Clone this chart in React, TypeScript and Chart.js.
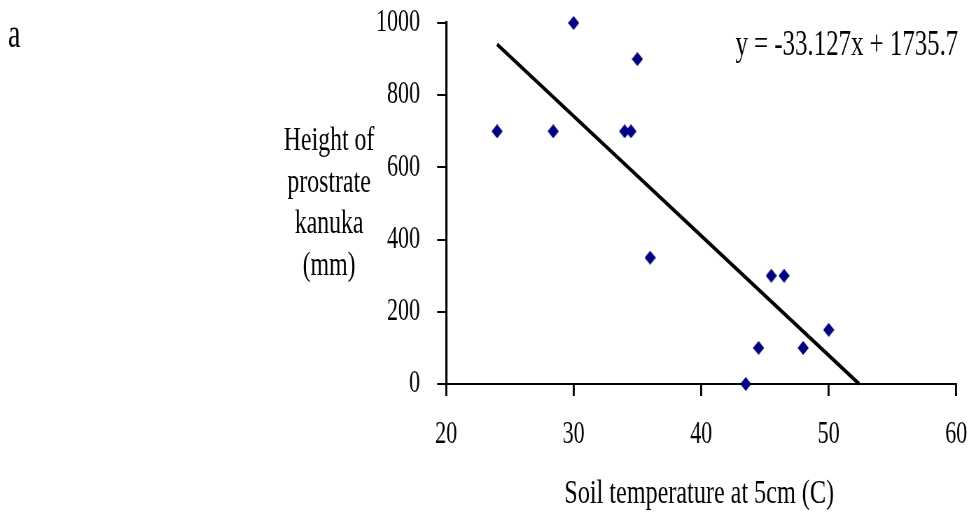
import React, { useEffect, useRef } from 'react';
import { Chart, registerables } from 'chart.js';

Chart.register(...registerables);

// ---- data ----
const soilTemp = [24, 28.4, 30, 34, 34.5, 35, 36, 43.5, 44.5, 45.5, 46.5, 48, 50];
const heightMm = [700, 700, 1000, 700, 700, 900, 350, 0, 100, 300, 300, 100, 150];
const trendSlope = -33.127;
const trendIntercept = 1735.7;
const trendXStart = 24;
const equationLabel = 'y = -33.127x + 1735.7';
const yTitleLines = ['Height of', 'prostrate', 'kanuka', '(mm)'];
const xTitle = 'Soil temperature at 5cm (C)';
const panelLabel = 'a';
const xRange = [20, 60];
const xStep = 10;
const yRange = [0, 1000];
const yStep = 200;

// ---- layout (displayed px; the canvas is squeezed horizontally) ----
const W = 969;
const H = 513;
const SQ = 0.7;
const IW = Math.round(W / SQ);
const toI = (px: number) => px / SQ;
const FONT = '"Liberation Serif", "Times New Roman", serif';

function makeDiamond(): HTMLCanvasElement {
  const c = document.createElement('canvas');
  c.width = 16;
  c.height = 14;
  const g = c.getContext('2d')!;
  g.fillStyle = '#000080';
  g.beginPath();
  g.moveTo(8, 0);
  g.lineTo(16, 7);
  g.lineTo(8, 14);
  g.lineTo(0, 7);
  g.closePath();
  g.fill();
  return c;
}

const textPlugin = {
  id: 'textPlugin',
  afterDraw(chart: any) {
    const ctx = chart.ctx as CanvasRenderingContext2D;
    ctx.save();
    ctx.fillStyle = '#000';
    ctx.textBaseline = 'alphabetic';
    ctx.textAlign = 'center';
    ctx.font = `34px ${FONT}`;
    const baselines = [150, 192, 233, 275];
    yTitleLines.forEach((t, i) => ctx.fillText(t, toI(329), baselines[i]));
    ctx.font = `34.5px ${FONT}`;
    ctx.fillText(xTitle, toI(699), 503);
    ctx.font = `35.5px ${FONT}`;
    ctx.textAlign = 'right';
    ctx.fillText(equationLabel, toI(958), 55);
    ctx.font = `40px ${FONT}`;
    ctx.textAlign = 'left';
    ctx.fillText(panelLabel, toI(8), 47);
    ctx.restore();
  },
};

export default function App() {
  const ref = useRef<HTMLCanvasElement>(null);
  useEffect(() => {
    document.body.style.margin = '0';
    document.body.style.overflow = 'hidden';
    const canvas = ref.current!;
    const trendXEnd = -trendIntercept / trendSlope;
    const chart = new Chart(canvas, {
      type: 'scatter',
      data: {
        datasets: [
          {
            data: soilTemp.map((x, i) => ({ x, y: heightMm[i] })),
            pointStyle: makeDiamond() as any,
            pointRadius: 7,
            showLine: false,
            clip: false as any,
          },
          {
            data: [
              { x: trendXStart, y: trendSlope * trendXStart + trendIntercept },
              { x: trendXEnd, y: trendSlope * trendXEnd + trendIntercept },
            ],
            showLine: true,
            pointRadius: 0,
            borderColor: '#000',
            borderWidth: 4,
            clip: false as any,
          },
        ],
      },
      options: {
        animation: false,
        responsive: false,
        devicePixelRatio: 1,
        layout: { padding: { top: 23, right: IW - toI(956), bottom: 0, left: 0 } },
        plugins: { legend: { display: false }, tooltip: { enabled: false } },
        scales: {
          x: {
            type: 'linear',
            min: xRange[0],
            max: xRange[1],
            ticks: {
              stepSize: xStep,
              color: '#000',
              font: { family: FONT, size: 31.5 },
              padding: 20,
              callback: (v: any) => String(v),
            },
            grid: {
              drawOnChartArea: false,
              drawTicks: true,
              tickLength: 12,
              color: '#000',
              lineWidth: 2 / SQ,
            },
            border: { display: true, color: '#000', width: 2 },
            afterFit(scale: any) {
              scale.height = H - 384;
              scale.paddingLeft = 0;
              scale.paddingRight = 0;
            },
          },
          y: {
            type: 'linear',
            min: yRange[0],
            max: yRange[1],
            ticks: {
              stepSize: yStep,
              color: '#000',
              font: { family: FONT, size: 31.5 },
              padding: toI(17),
              callback: (v: any) => String(v),
            },
            grid: {
              drawOnChartArea: false,
              drawTicks: true,
              tickLength: toI(9),
              color: '#000',
              lineWidth: 2,
            },
            border: { display: true, color: '#000', width: 2.2 / SQ },
            afterFit(scale: any) {
              scale.width = toI(446);
              scale.paddingTop = 0;
              scale.paddingBottom = 0;
            },
          },
        },
      },
      plugins: [textPlugin],
    });
    return () => chart.destroy();
  }, []);
  return (
    <canvas
      ref={ref}
      width={IW}
      height={H}
      style={{ display: 'block', width: `${W}px`, height: `${H}px` }}
    />
  );
}
